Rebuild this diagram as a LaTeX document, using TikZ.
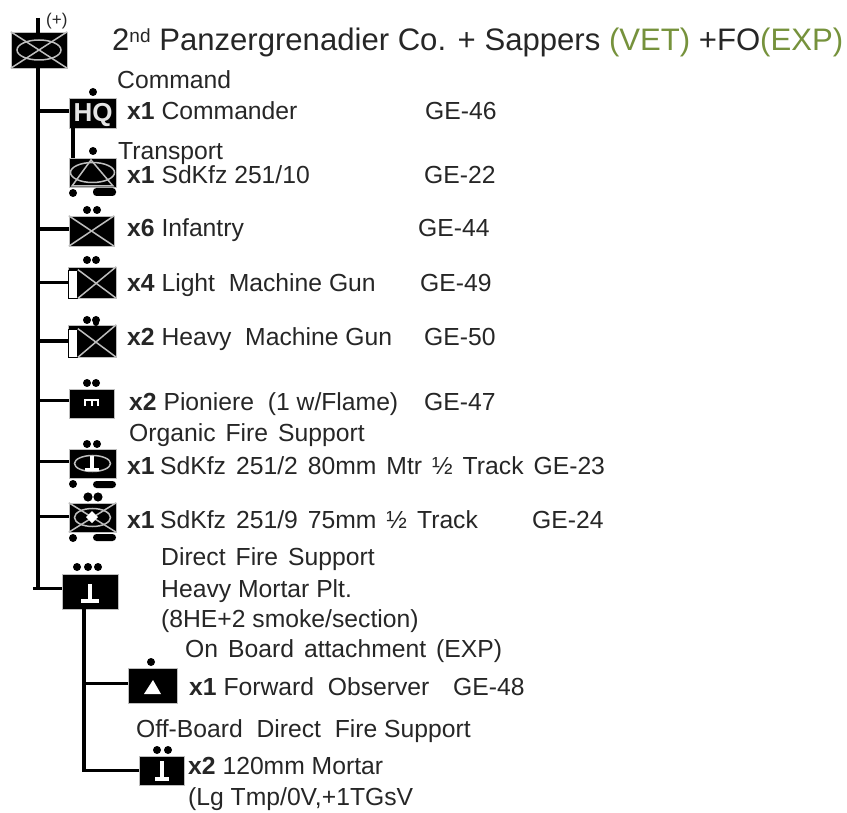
\documentclass[tikz,border=0pt]{standalone}
\usepackage{fontspec}
\setmainfont{Liberation Sans}
\usetikzlibrary{positioning, calc}
\definecolor{txtgray}{RGB}{38,38,38}
\definecolor{vetgreen}{RGB}{118,146,60}
\definecolor{symgray}{RGB}{190,190,190}
\newcommand{\widewords}{\spaceskip 10pt\relax}
\tikzset{
  %% ---- boxes ----
  unitbox/.style 2 args = {rectangle, draw=symgray, line width=0.5pt,
                   fill=black, inner sep=0pt,
                   minimum width=#1pt, minimum height=#2pt},
  sidebar/.style = {rectangle, draw=black, line width=0.7pt,
                   fill=white, inner sep=0pt,
                   minimum width=9pt, minimum height=28pt},
  hqtxt/.style   = {inner sep=0pt, text=symgray!40,
                   font=\fontsize{26}{28}\selectfont\bfseries},
  %% ---- text ----
  lbl/.style     = {anchor=base west, inner sep=0pt, text=txtgray,
                   font=\fontsize{24.7}{28}\selectfont},
  widelbl/.style = {lbl, font=\fontsize{24.7}{28}\selectfont\widewords},
  titlelbl/.style= {lbl, font=\fontsize{31.1}{34}\selectfont},
  sizelbl/.style = {lbl, font=\fontsize{17}{18}\selectfont},
  %% ---- lines ----
  link/.style    = {line width=3.4pt, color=black},
  symline/.style = {line width=1.5pt, color=symgray},
  whitesym/.style= {line width=3.6pt, color=white},
}
\begin{document}
\begin{tikzpicture}[x=1pt, y=-1pt]

  \useasboundingbox (0,0) rectangle (847,813);

  %% ---- battalion trunk ----
  \coordinate (trunktop) at (38,18);
  \coordinate (trunkend) at (38,589);

  %% ---- unit boxes ----
  \node[unitbox={56}{36}] (coy) at (39,50) {};
  \node[unitbox={47}{30}] (hq) at (92.5,113) {};
  \node[unitbox={47}{29}] (trans) at (92.5,172.5) {};
  \node[unitbox={45}{30}] (inf) at (91.5,231) {};
  \node[unitbox={48}{31}] (lmg) at (92,282.5) {};
  \node[unitbox={48}{32}] (hmg) at (92,341) {};
  \node[unitbox={45}{29}] (pio) at (91.5,403.5) {};
  \node[unitbox={47}{29}] (mtrht) at (92.5,463.5) {};
  \node[unitbox={47}{29}] (gunht) at (92.5,517.5) {};
  \node[unitbox={56}{35}] (plt) at (90,591.5) {};
  \node[unitbox={49}{35}] (fo) at (152.5,685.5) {};
  \node[unitbox={45}{29}] (hvy) at (161.5,770.5) {};
  \node[sidebar] (lmgbar) at (73,284) {};
  \node[sidebar] (hmgbar) at (73,343) {};

  %% ---- connectors ----
  \draw[link] (trunktop) -- (trunkend);
  \draw[link] ([yshift=2pt]hq.west) -- ([yshift=2pt]hq.west -| trunktop);
  \draw[link] ([yshift=2pt]inf.west) -- ([yshift=2pt]inf.west -| trunktop);
  \draw[link] (lmg.west) -- (lmg.west -| trunktop);
  \draw[link] (hmg.west) -- (hmg.west -| trunktop);
  \draw[link] ([yshift=3pt]pio.west) -- ([yshift=3pt]pio.west -| trunktop);
  \draw[link] ([yshift=2pt]mtrht.west) -- ([yshift=2pt]mtrht.west -| trunktop);
  \draw[link] ([yshift=1pt]gunht.west) -- ([yshift=1pt]gunht.west -| trunktop);
  \draw[link] ([yshift=3pt]plt.west) -- ([xshift=-5.5pt,yshift=3pt]plt.west -| trunktop);
  \draw[link] (73,128) -- (trans.north -| 73,128);
  \draw[link] (plt.south -| 84,0) |- ([yshift=2pt]fo.west);
  \draw[link] (plt.south -| 84,0) |- (hvy.west);

  %% ---- unit symbols ----
  \draw[symline] (coy.north west) -- (coy.south east);
  \draw[symline] (coy.south west) -- (coy.north east);
  \draw[symline] (coy) ellipse (22 and 10);
  \node[hqtxt] (hqsym) at (93,115) {HQ};
  \draw[symline] (trans) ellipse (22 and 10);
  \draw[symline] (72,186) -- (91,160) -- (113,186) -- cycle;
  \draw[symline] (inf.north west) -- (inf.south east);
  \draw[symline] (inf.south west) -- (inf.north east);
  \draw[symline] (lmgbar.north east) -- (lmg.south east);
  \draw[symline] (lmgbar.south east) -- (lmg.north east);
  \draw[symline] (hmgbar.north east) -- (hmg.south east);
  \draw[symline] (hmgbar.south east) -- (hmg.north east);
  \draw[line width=2pt, white] (85,406) -- (85,400) -- (98,400) -- (98,406)
    (91.5,400) -- (91.5,406);
  \draw[symline] (mtrht) ellipse (18 and 8);
  \draw[whitesym] (92,456) -- (92,470);
  \draw[whitesym] (85,469.5) -- (99,469.5);
  \draw[symline] (gunht.north west) -- (gunht.south east);
  \draw[symline] (gunht.south west) -- (gunht.north east);
  \draw[symline] (gunht) ellipse (18 and 9);
  \fill[white] (92,511) -- (98,517) -- (92,523) -- (86,517) -- cycle;
  \draw[whitesym] (90,584) -- (90,601);
  \draw[whitesym] (81,601) -- (99,601);
  \fill[white] (153,680) -- (161,694) -- (144,694) -- cycle;
  \draw[whitesym] (162,761) -- (162,779);
  \draw[whitesym] (155,779) -- (169,779);

  %% ---- size dots and tracks ----
  \fill (93,92) circle (4);
  \fill (93,151) circle (4);
  \fill (73,193) circle (4);
  \fill[rounded corners=3.5pt] (93,188) rectangle (116,196);
  \fill (87,210) circle (4); \fill (97,210) circle (4);
  \fill (87,260) circle (4); \fill (96,260) circle (4);
  \fill (87,320) circle (4); \fill (96,320) circle (4);
  \fill (96,323) circle (3);
  \fill (87,383) circle (4); \fill (96,383) circle (4);
  \fill (87,444) circle (4); \fill (97,444) circle (4);
  \fill (73,484) circle (4);
  \fill[rounded corners=3.5pt] (93,481) rectangle (116,488);
  \fill (88,497) circle (4.6); \fill (98,497) circle (4.6);
  \fill (73,538) circle (4);
  \fill[rounded corners=3.5pt] (93,534) rectangle (116,541);
  \fill (77,567) circle (4); \fill (88,567) circle (4); \fill (98,567) circle (4);
  \fill (151,662) circle (4);
  \fill (157,750) circle (4); \fill (168,750) circle (4);

  %% ---- labels ----
  \node[sizelbl] (coysize) at (46,26) {(+)};
  \node[titlelbl] (title) at (112,51)
    {2\raisebox{8pt}{\fontsize{19}{19}\selectfont nd} Panzergrenadier Co. + Sappers \textcolor{vetgreen}{(VET)} +FO\textcolor{vetgreen}{(EXP)}};
  \node[lbl] (cmdhdr) at (117,89) {Command};
  \node[lbl] (hqname) at (127,120) {\textbf{x1} Commander};
  \node[lbl] (hqcode) at (425,120) {GE-46};
  \node[lbl] (transhdr) at (118,160) {Transport};
  \node[lbl] (transname) at (127,184) {\textbf{x1} SdKfz 251/10};
  \node[lbl] (transcode) at (424,184) {GE-22};
  \node[lbl] (infname) at (127,237) {\textbf{x6} Infantry};
  \node[lbl] (infcode) at (418,237) {GE-44};
  \node[lbl] (lmgname) at (127,292) {\textbf{x4} Light\ \ Machine Gun};
  \node[lbl] (lmgcode) at (420,292) {GE-49};
  \node[lbl] (hmgname) at (127,345) {\textbf{x2} Heavy\ \ Machine Gun};
  \node[lbl] (hmgcode) at (424,345) {GE-50};
  \node[lbl] (pioname) at (129,410) {\textbf{x2} Pioniere\ \ (1 w/Flame)};
  \node[lbl] (piocode) at (424,410) {GE-47};
  \node[widelbl] (orghdr) at (129,441) {Organic Fire Support};
  \node[widelbl] (mtrname) at (127,474) {\textbf{x1}\hspace{5.5pt}SdKfz 251/2 80mm Mtr ½ Track GE-23};
  \node[widelbl] (gunname) at (127,528) {\textbf{x1}\hspace{5.5pt}SdKfz 251/9 75mm ½ Track};
  \node[lbl] (guncode) at (532,528) {GE-24};
  \node[widelbl] (dirhdr) at (161,565) {Direct Fire Support};
  \node[lbl] (pltname) at (161,597) {Heavy Mortar Plt.};
  \node[lbl] (pltnote) at (161,627) {(8HE+2 smoke/section)};
  \node[widelbl] (onbhdr) at (185,657) {On Board attachment (EXP)};
  \node[lbl] (foname) at (189,695) {\textbf{x1} Forward\ \ Observer};
  \node[lbl] (focode) at (453,695) {GE-48};
  \node[lbl] (offhdr) at (136,737) {Off-Board\ \ Direct\ \ Fire Support};
  \node[lbl] (hvyname) at (188,774) {\textbf{x2} 120mm Mortar};
  \node[lbl] (hvynote) at (188,805) {(Lg Tmp/0V,+1TGsV};

\end{tikzpicture}
\end{document}
